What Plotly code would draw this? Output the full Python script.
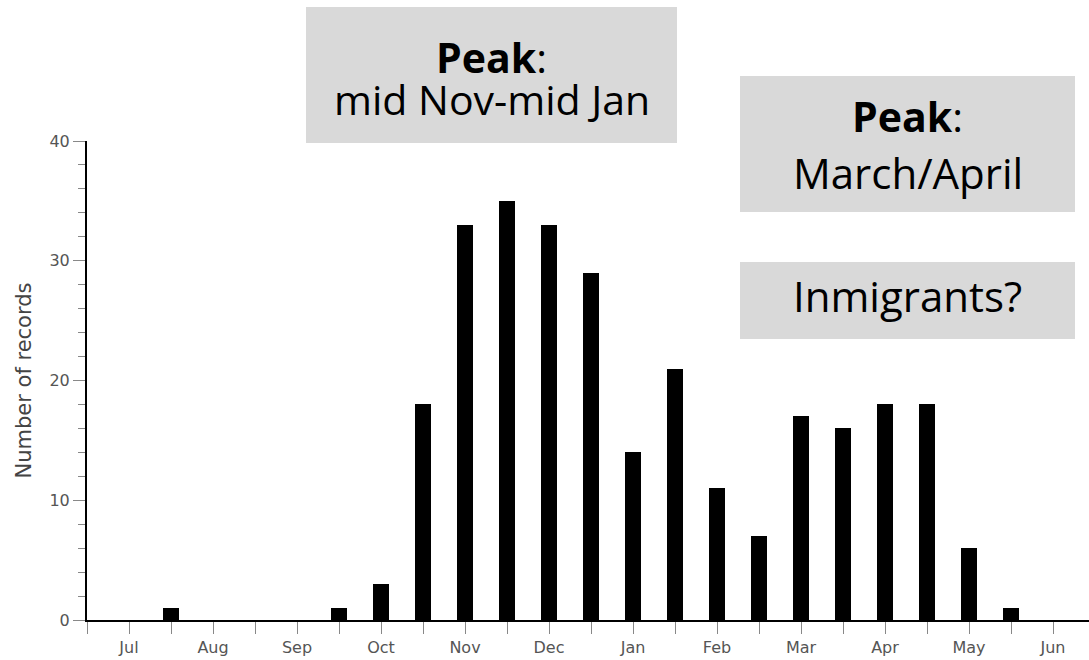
import plotly.graph_objects as go

# Half-month bins, July -> June (bin index 0..23); month labels sit on odd bins
months = ["Jul", "Aug", "Sep", "Oct", "Nov", "Dec", "Jan", "Feb", "Mar", "Apr", "May", "Jun"]
records = [0, 0, 1, 0, 0, 0, 1, 3, 18, 33, 35, 33, 29, 14, 21, 11, 7, 17, 16, 18, 18, 6, 1, 0]
y_ticks = [0, 10, 20, 30, 40]

bins = list(range(len(records)))
tick_text = []
for i in bins:
    tick_text.append(months[i // 2] if i % 2 == 1 else "")

# plot area in pixels
L, R, T, B = 87, 1089, 141, 620
W, H = 1089, 660


def px(x):
    return (x - L) / (R - L)


def py(y):
    return (B - y) / (B - T)


fig = go.Figure()
fig.add_trace(go.Bar(x=bins, y=records, width=0.38,
                     marker=dict(color="black", line=dict(width=0))))

box_font = "Open Sans, Noto Sans, sans-serif"
shapes = []
for (x0, y0, x1, y1) in [(306, 7, 677, 143), (740, 76, 1075, 212), (740, 262, 1075, 339)]:
    shapes.append(dict(type="rect", xref="paper", yref="paper",
                       x0=px(x0), x1=px(x1), y0=py(y1), y1=py(y0),
                       fillcolor="#d9d9d9", line=dict(width=0), layer="below"))

texts = [
    ("<b>Peak</b>:", 491.5, 57, 41),
    ("mid Nov-mid Jan", 491.5, 99, 41),
    ("<b>Peak</b>:", 907.5, 116, 41),
    ("March/April", 907.5, 172, 42),
    ("Inmigrants?", 907.5, 295, 42),
]
annotations = []
for t, x, y, s in texts:
    annotations.append(dict(text=t, xref="paper", yref="paper", x=px(x), y=py(y),
                            xanchor="center", yanchor="middle", showarrow=False,
                            font=dict(family=box_font, size=s, color="black")))

fig.update_layout(
    width=W, height=H,
    margin=dict(l=L, r=W - R, t=T, b=H - B, autoexpand=False),
    plot_bgcolor="white", paper_bgcolor="white",
    showlegend=False,
    shapes=shapes,
    annotations=annotations,
    bargap=0,
)
fig.update_xaxes(range=[0, (R - L) / 42.0], tickmode="array", tickvals=bins, ticktext=tick_text,
                 ticks="outside", ticklen=12, tickcolor="#888", tickwidth=1,
                 showline=True, linecolor="black", linewidth=2, showgrid=False, zeroline=False,
                 tickfont=dict(family="DejaVu Sans", size=16, color="#555"))
fig.update_yaxes(range=[0, 40], tickmode="array", tickvals=y_ticks,
                 ticks="outside", ticklen=12, tickcolor="#888", tickwidth=1,
                 minor=dict(dtick=2, ticks="outside", ticklen=7, tickcolor="#888"),
                 showline=True, linecolor="black", linewidth=2, showgrid=False, zeroline=False,
                 tickfont=dict(family="DejaVu Sans", size=16, color="#555"),
                 title=dict(text="Number of records", standoff=12,
                            font=dict(family="DejaVu Sans", size=21, color="#444")))

fig.write_html("out.html", config={"displayModeBar": False},
               post_script="document.body.style.margin='0px';")
